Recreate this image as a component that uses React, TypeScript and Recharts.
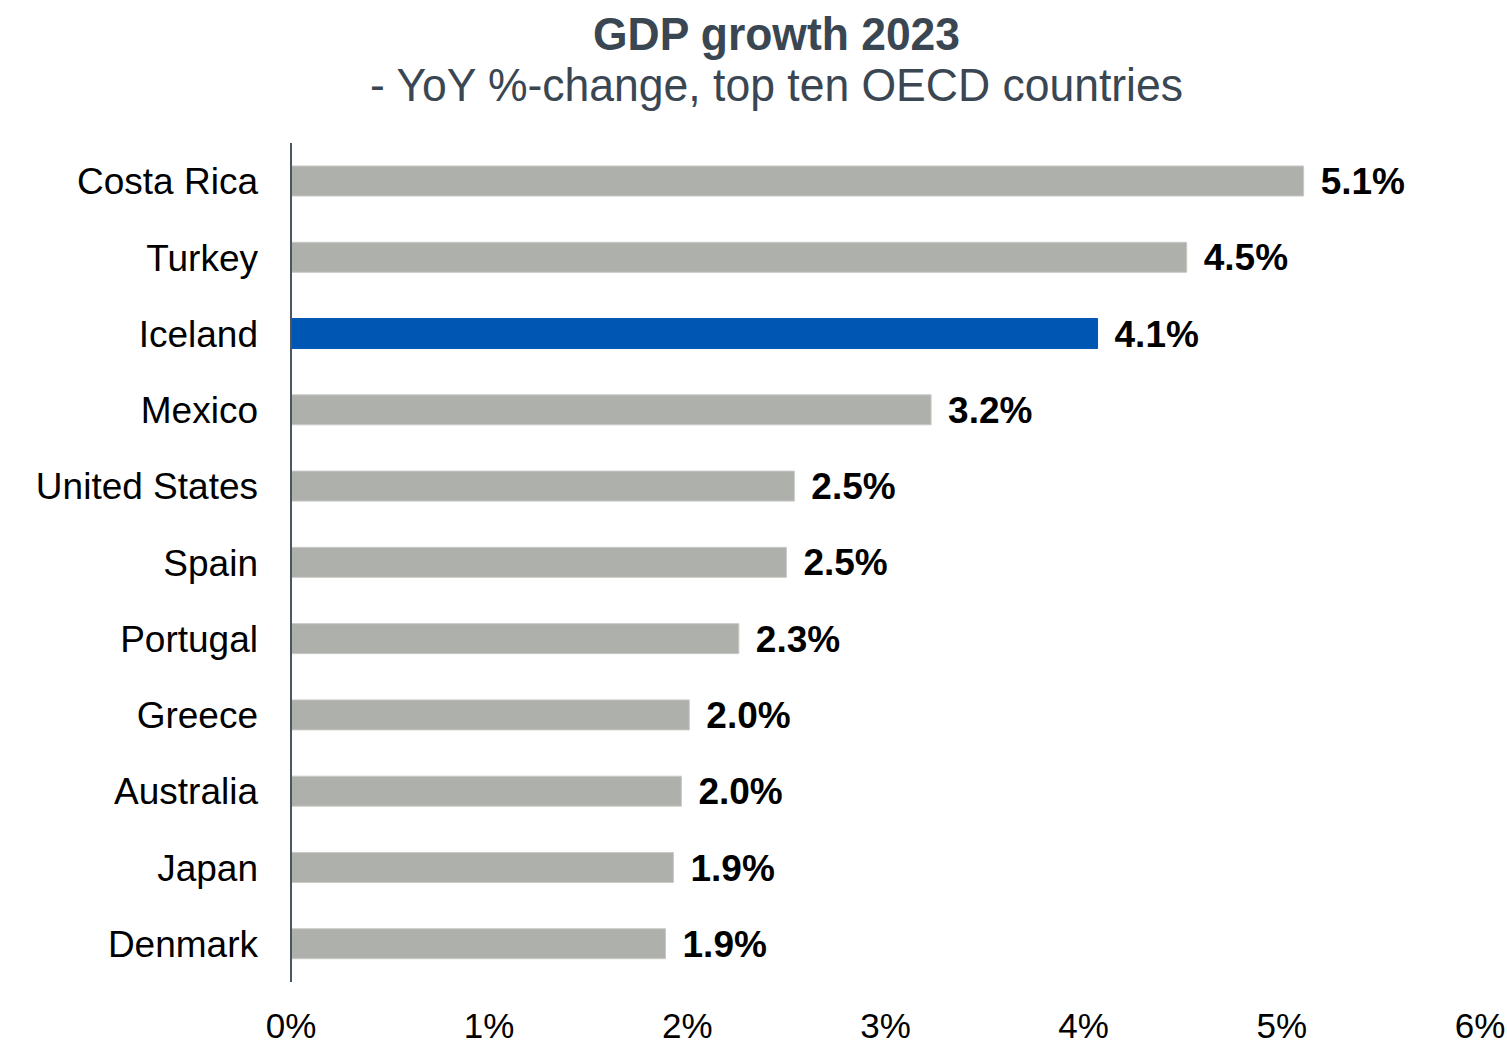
import React from 'react';
import { BarChart, Bar, XAxis, YAxis, Cell, LabelList } from 'recharts';

const countries = ['Costa Rica', 'Turkey', 'Iceland', 'Mexico', 'United States', 'Spain', 'Portugal', 'Greece', 'Australia', 'Japan', 'Denmark'];
const growth = [5.11, 4.52, 4.07, 3.23, 2.54, 2.5, 2.26, 2.01, 1.97, 1.93, 1.89];
const highlight = 'Iceland';
const xTicks = [0, 1, 2, 3, 4, 5, 6];

const data = countries.map((country, i) => ({ country, value: growth[i] }));

const FONT = '"Liberation Sans", Arial, sans-serif';

export default function App() {
    return (
        <div style={{ position: 'absolute', left: 0, top: 0, width: 1507, height: 1047, background: '#fff' }}>
            <svg width={1507} height={130} style={{ position: 'absolute', left: 0, top: 0 }}>
                <text x={776.5} y={50} textAnchor="middle" fontFamily={FONT} fontSize={46} fontWeight="bold" fill="#3a4753" textLength={367} lengthAdjust="spacingAndGlyphs">
                    GDP growth 2023
                </text>
                <text x={776.5} y={101} textAnchor="middle" fontFamily={FONT} fontSize={46} fill="#3a4753" textLength={813} lengthAdjust="spacingAndGlyphs">
                    - YoY %-change, top ten OECD countries
                </text>
            </svg>
            <div style={{ position: 'absolute', left: 0, top: 0 }}>
                <BarChart
                    width={1507}
                    height={1047}
                    data={data}
                    layout="vertical"
                    margin={{ top: 143, right: 27, left: 0, bottom: 0 }}
                    barCategoryGap={0}
                >
                    <XAxis
                        type="number"
                        domain={[0, 6]}
                        ticks={xTicks}
                        tickFormatter={(v) => `${v}%`}
                        axisLine={false}
                        tickLine={false}
                        tickSize={0}
                        tickMargin={31}
                        height={65}
                        interval={0}
                        tick={{ fontSize: 35, fill: '#000', fontFamily: FONT }}
                    />
                    <YAxis
                        type="category"
                        dataKey="country"
                        width={291}
                        axisLine={{ stroke: '#4b5661', strokeWidth: 2 }}
                        tickLine={false}
                        tickSize={0}
                        tickMargin={33}
                        interval={0}
                        tick={{ fontSize: 37, fill: '#000', fontFamily: FONT }}
                    />
                    <Bar dataKey="value" barSize={30} isAnimationActive={false} stroke="#c9cac6" strokeWidth={1}>
                        {data.map((d) => (
                            <Cell
                                key={d.country}
                                fill={d.country === highlight ? '#0057b3' : '#aeb0ab'}
                                stroke={d.country === highlight ? '#0057b3' : '#c9cac6'}
                            />
                        ))}
                        <LabelList
                            dataKey="value"
                            position="right"
                            offset={17}
                            formatter={(v: any) => `${Number(v).toFixed(1)}%`}
                            style={{ fontSize: 37, fontWeight: 'bold', fill: '#000', fontFamily: FONT }}
                        />
                    </Bar>
                </BarChart>
            </div>
        </div>
    );
}
